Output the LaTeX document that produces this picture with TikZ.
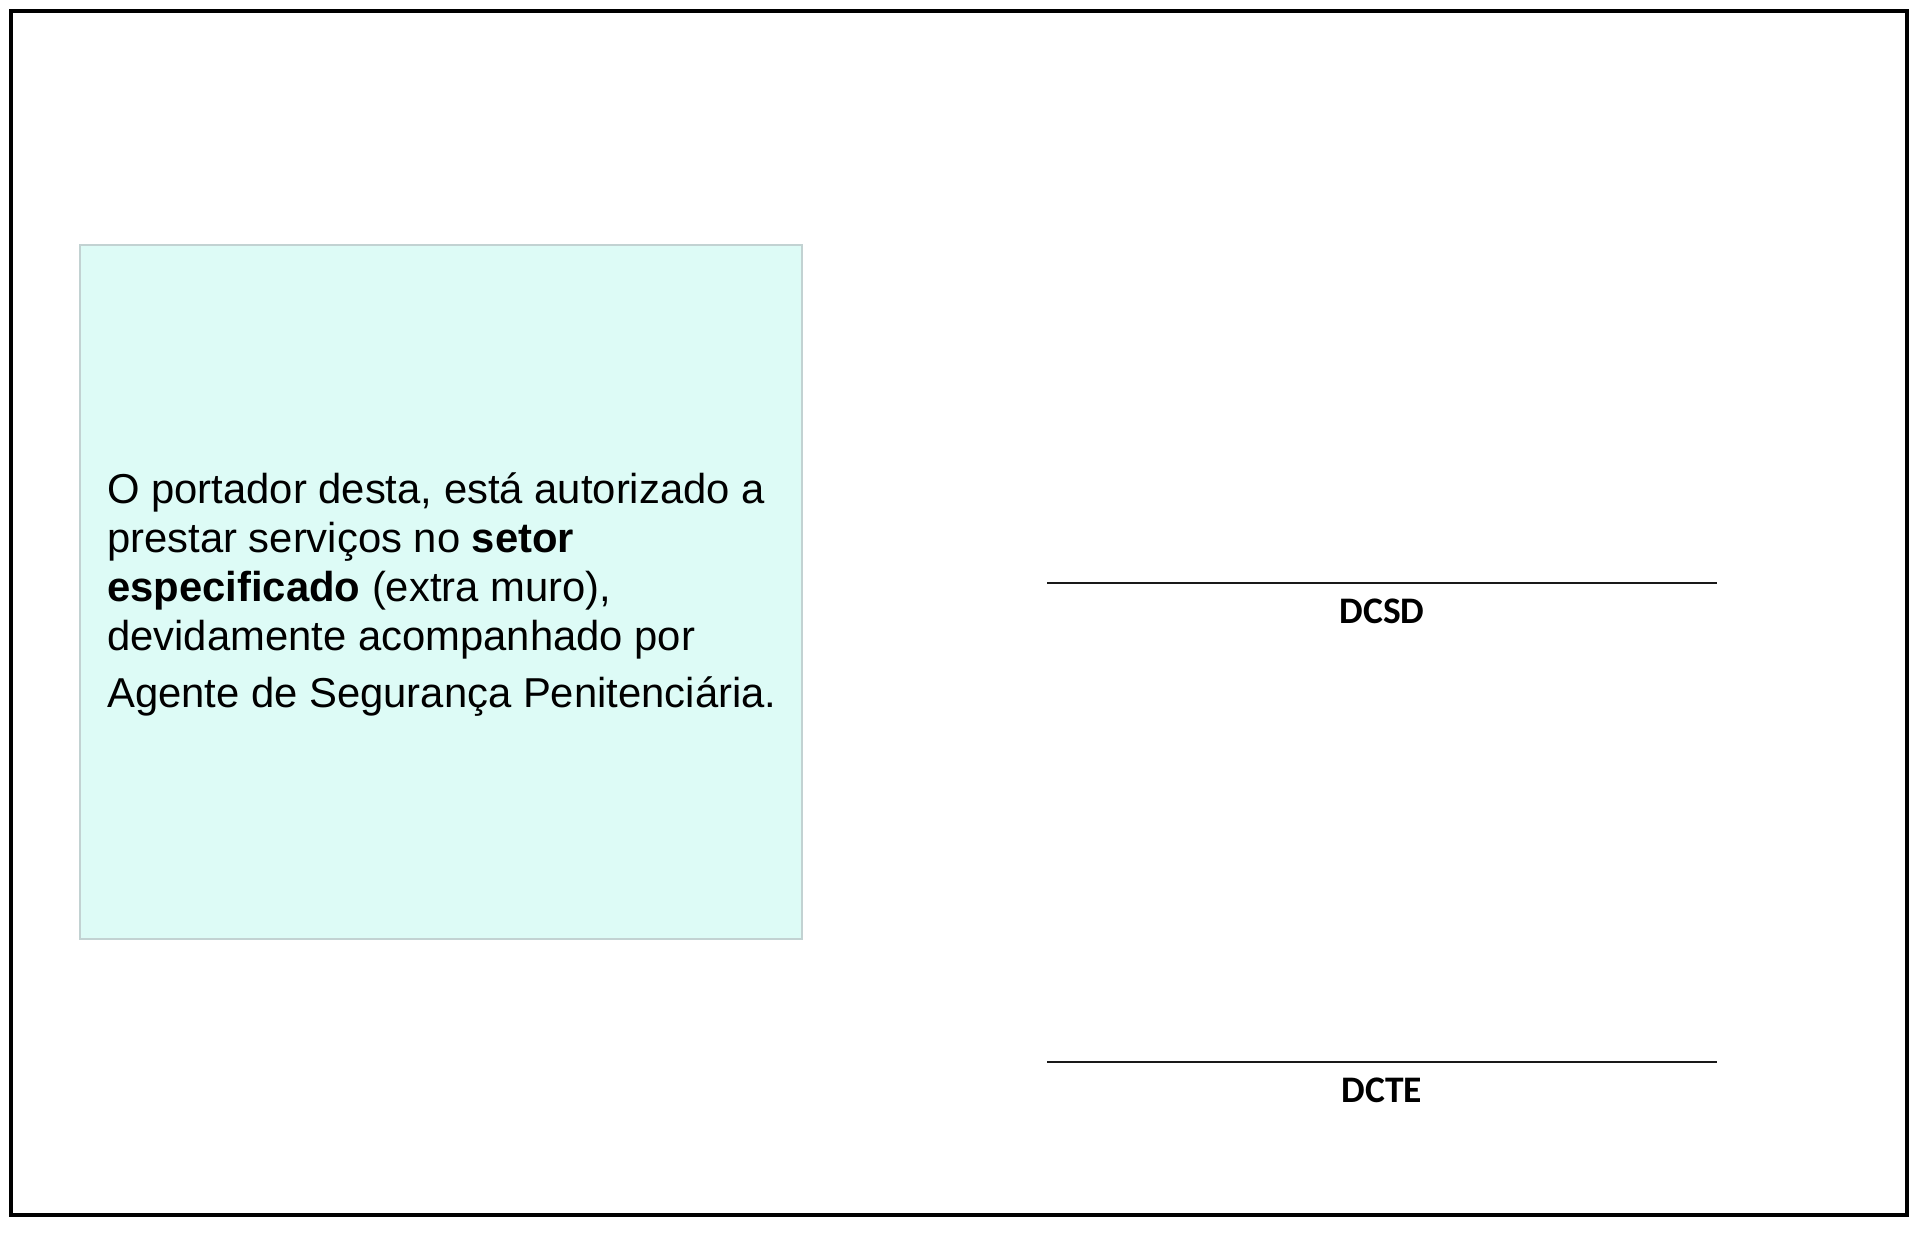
\documentclass[tikz,border=0pt]{standalone}
\usepackage{fontspec}
\setmainfont{Liberation Sans}
\newfontfamily\sigfont{Carlito}
\definecolor{panelfill}{HTML}{DDFBF6}
\definecolor{panelline}{HTML}{C2D2D2}
\begin{document}
\begin{tikzpicture}[x=1pt,y=-1pt,
  frame/.style={draw=black,line width=3.5pt},
  panel/.style={draw=panelline,fill=panelfill,line width=2pt},
  sigline/.style={draw=black!90,line width=2.5pt},
  siglabel/.style={font=\sigfont\bfseries\fontsize{37.5}{42}\selectfont,inner sep=0pt,anchor=base},
  bodytext/.style={font=\fontsize{41.8}{49}\selectfont,align=left,inner sep=0pt,anchor=base west}]
\useasboundingbox (0,0) rectangle (1926,1234);
\draw[frame] (11,11) rectangle (1907,1215);
\draw[panel] (80,245) rectangle (802,939);
\node[bodytext] (txt) at (107,707) {O portador desta, está autorizado a\\prestar serviços no \textbf{setor}\\\textbf{especificado} (extra muro),\\devidamente acompanhado por\\[7.5pt]Agente de Segurança Penitenciária.};
\coordinate (l1a) at (1047,583);
\coordinate (l1b) at (1717,583);
\coordinate (l2a) at (1047,1062);
\coordinate (l2b) at (1717,1062);
\draw[sigline] (l1a) -- (l1b);
\draw[sigline] (l2a) -- (l2b);
\node[siglabel] (dcsd) at (1382,623) {DCSD};
\node[siglabel] (dcte) at (1382,1102) {DCTE};
\end{tikzpicture}
\end{document}
